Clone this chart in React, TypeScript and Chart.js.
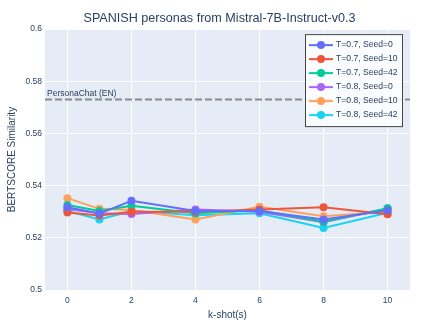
import React, { useEffect, useRef } from "react";
import { Chart, registerables } from "chart.js";

Chart.register(...registerables);

const kShots = [0, 1, 2, 4, 6, 8, 10];
const t07s0 = [0.5317, 0.5293, 0.5342, 0.5303, 0.5303, 0.5270, 0.5305];
const t07s10 = [0.5297, 0.5286, 0.5300, 0.5300, 0.5309, 0.5317, 0.5290];
const t07s42 = [0.5326, 0.5303, 0.5323, 0.5294, 0.5306, 0.5262, 0.5313];
const t08s0 = [0.5310, 0.5294, 0.5291, 0.5309, 0.5300, 0.5260, 0.5312];
const t08s10 = [0.5352, 0.5311, 0.5307, 0.5270, 0.5319, 0.5283, 0.5300];
const t08s42 = [0.5303, 0.5270, 0.5303, 0.5287, 0.5294, 0.5238, 0.5296];

const seriesNames = [
  "T=0.7, Seed=0",
  "T=0.7, Seed=10",
  "T=0.7, Seed=42",
  "T=0.8, Seed=0",
  "T=0.8, Seed=10",
  "T=0.8, Seed=42",
];
const seriesValues = [t07s0, t07s10, t07s42, t08s0, t08s10, t08s42];
const seriesColors = ["#636efa", "#EF553B", "#00cc96", "#ab63fa", "#FFA15A", "#19d3f3"];

const xTicks = [0, 2, 4, 6, 8, 10];
const yTicks = [0.5, 0.52, 0.54, 0.56, 0.58, 0.6];
const baselineValue = 0.573;
const baselineLabel = "PersonaChat (EN)";

const FONT = "'Liberation Sans', Arial, sans-serif";
const TEXT = "#2a3f5f";

export default function App() {
  const ref = useRef<HTMLCanvasElement | null>(null);
  useEffect(() => {
    document.body.style.margin = "0";
    const canvas = ref.current!;
    const bgPlugin = {
      id: "bgPlugin",
      beforeDraw(chart: any) {
        const { ctx, chartArea } = chart;
        ctx.save();
        ctx.fillStyle = "#E5ECF6";
        ctx.fillRect(chartArea.left, chartArea.top, chartArea.right - chartArea.left, chartArea.bottom - chartArea.top);
        ctx.restore();
      },
      beforeDatasetsDraw(chart: any) {
        const { ctx, chartArea, scales } = chart;
        const y = scales.y.getPixelForValue(baselineValue);
        ctx.save();
        ctx.strokeStyle = "rgba(128,128,128,0.9)";
        ctx.lineWidth = 2;
        ctx.setLineDash([7, 3]);
        ctx.beginPath();
        ctx.moveTo(chartArea.left, y);
        ctx.lineTo(chartArea.right, y);
        ctx.stroke();
        ctx.setLineDash([]);
        ctx.fillStyle = TEXT;
        ctx.font = `8.5px ${FONT}`;
        ctx.textAlign = "left";
        ctx.textBaseline = "bottom";
        ctx.fillText(baselineLabel, chartArea.left + 2, y - 2);
        ctx.restore();
      },
      afterDraw(chart: any) {
        const { ctx, chartArea } = chart;
        const w = 97;
        const rowH = 14;
        const h = rowH * seriesNames.length + 8;
        const x0 = chartArea.right - 8 - w;
        const y0 = chartArea.top + 5;
        ctx.save();
        ctx.fillStyle = "rgba(255,255,255,0.85)";
        ctx.fillRect(x0, y0, w, h);
        ctx.strokeStyle = "#444";
        ctx.lineWidth = 1;
        ctx.strokeRect(x0 + 0.5, y0 + 0.5, w, h);
        ctx.font = `8.6px ${FONT}`;
        ctx.textAlign = "left";
        ctx.textBaseline = "middle";
        seriesNames.forEach((name, i) => {
          const cy = y0 + 11 + i * rowH;
          ctx.strokeStyle = seriesColors[i];
          ctx.lineWidth = 2;
          ctx.beginPath();
          ctx.moveTo(x0 + 4, cy);
          ctx.lineTo(x0 + 28, cy);
          ctx.stroke();
          ctx.fillStyle = seriesColors[i];
          ctx.beginPath();
          ctx.arc(x0 + 16, cy, 4, 0, Math.PI * 2);
          ctx.fill();
          ctx.fillStyle = TEXT;
          ctx.fillText(name, x0 + 31, cy);
        });
        ctx.restore();
      },
    };

    const chart = new Chart(canvas, {
      type: "line",
      data: {
        datasets: seriesNames.map((name, i) => ({
          label: name,
          data: kShots.map((k, j) => ({ x: k, y: seriesValues[i][j] })),
          borderColor: seriesColors[i],
          backgroundColor: seriesColors[i],
          borderWidth: 2,
          pointRadius: 4,
          pointBorderWidth: 0,
          pointHoverRadius: 4,
          tension: 0,
        })),
      },
      options: {
        animation: false,
        responsive: false,
        layout: { padding: { left: 0, right: 0, top: 0, bottom: 0 } },
        plugins: {
          legend: { display: false },
          tooltip: { enabled: false },
          title: {
            display: true,
            text: "SPANISH personas from Mistral-7B-Instruct-v0.3",
            color: TEXT,
            font: { family: FONT, size: 12.6, weight: "normal" },
            padding: { top: 11, bottom: 3 },
          },
        },
        scales: {
          x: {
            type: "linear",
            min: -0.7,
            max: 10.7,
            afterFit(scale: any) {
              scale.height = 39;
            },
            afterBuildTicks(scale: any) {
              scale.ticks = xTicks.map((v) => ({ value: v }));
            },
            grid: { color: "#ffffff", lineWidth: 1, drawTicks: false },
            border: { display: false },
            ticks: {
              color: TEXT,
              padding: 6,
              font: { family: FONT, size: 8.5 },
              maxRotation: 0,
              callback: (v: any) => String(v),
            },
            title: {
              display: true,
              text: "k-shot(s)",
              color: TEXT,
              font: { family: FONT, size: 10 },
              padding: { top: 0, bottom: 8 },
            },
          },
          y: {
            type: "linear",
            min: 0.5,
            max: 0.6,
            afterFit(scale: any) {
              scale.width = 45;
            },
            afterBuildTicks(scale: any) {
              scale.ticks = yTicks.map((v) => ({ value: v }));
            },
            grid: { color: "#ffffff", lineWidth: 1, drawTicks: false },
            border: { display: false },
            ticks: {
              color: TEXT,
              padding: 3,
              font: { family: FONT, size: 8.5 },
              callback: (v: any) => String(Number(Number(v).toFixed(2))),
            },
            title: {
              display: true,
              text: "BERTSCORE Similarity",
              color: TEXT,
              font: { family: FONT, size: 10 },
              padding: { top: 6, bottom: 0 },
            },
          },
          yRightSpace: {
            type: "linear",
            position: "right",
            display: true,
            min: 0.5,
            max: 0.6,
            afterFit(scale: any) {
              scale.width = 29;
            },
            grid: { display: false, drawTicks: false },
            border: { display: false },
            ticks: { display: false },
          },
        },
      },
      plugins: [bgPlugin],
    } as any);
    return () => chart.destroy();
  }, []);
  return (
    <div style={{ width: 439, height: 329, background: "#fff" }}>
      <canvas ref={ref} width={439} height={329} style={{ display: "block" }} />
    </div>
  );
}
